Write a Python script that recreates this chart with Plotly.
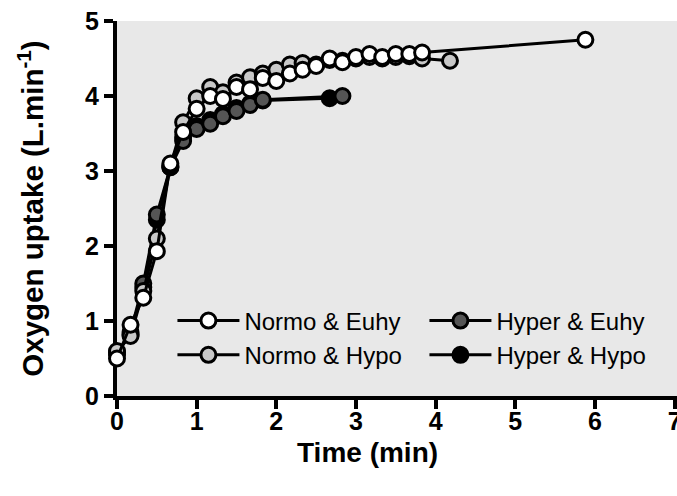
import plotly.graph_objects as go

# Oxygen uptake (L/min) over time (min) for four conditions
t_normo_euhy = [0, 0.17, 0.33, 0.5, 0.67, 0.83, 1.0, 1.17, 1.33, 1.5, 1.67, 1.83, 2.0,
                2.17, 2.33, 2.5, 2.67, 2.83, 3.0, 3.17, 3.33, 3.5, 3.67, 3.83, 5.88]
v_normo_euhy = [0.50, 0.95, 1.31, 1.93, 3.10, 3.52, 3.83, 4.00, 3.96, 4.12, 4.09, 4.24, 4.20,
                4.30, 4.35, 4.40, 4.50, 4.45, 4.52, 4.56, 4.52, 4.56, 4.56, 4.58, 4.75]

t_normo_hypo = [0, 0.17, 0.33, 0.5, 0.67, 0.83, 1.0, 1.17, 1.33, 1.5, 1.67, 1.83, 2.0,
                2.17, 2.33, 2.5, 2.67, 2.83, 3.0, 3.17, 3.33, 3.5, 3.67, 3.83, 4.18]
v_normo_hypo = [0.60, 0.80, 1.40, 2.10, 3.07, 3.65, 3.97, 4.12, 4.05, 4.18, 4.25, 4.30, 4.35,
                4.42, 4.44, 4.42, 4.48, 4.47, 4.50, 4.52, 4.50, 4.52, 4.53, 4.50, 4.47]

t_hyper_euhy = [0, 0.17, 0.33, 0.5, 0.67, 0.83, 1.0, 1.17, 1.33, 1.5, 1.67, 1.83, 2.83]
v_hyper_euhy = [0.55, 0.85, 1.50, 2.42, 3.05, 3.40, 3.56, 3.63, 3.73, 3.80, 3.88, 3.95, 4.00]

t_hyper_hypo = [0, 0.17, 0.33, 0.5, 0.67, 0.83, 1.0, 1.17, 1.33, 1.5, 1.67, 1.83, 2.67]
v_hyper_hypo = [0.58, 0.82, 1.45, 2.35, 3.05, 3.45, 3.60, 3.68, 3.76, 3.84, 3.90, 3.94, 3.97]

x_ticks = [0, 1, 2, 3, 4, 5, 6, 7]
y_ticks = [0, 1, 2, 3, 4, 5]

FONT = "Liberation Sans, Arial, sans-serif"

# back-to-front drawing order, legend order set by legendrank
series = [
    ("Hyper & Hypo", t_hyper_hypo, v_hyper_hypo, "#000000", 4),
    ("Hyper & Euhy", t_hyper_euhy, v_hyper_euhy, "#555555", 2),
    ("Normo & Hypo", t_normo_hypo, v_normo_hypo, "#c8c8c8", 3),
    ("Normo & Euhy", t_normo_euhy, v_normo_euhy, "#ffffff", 1),
]

fig = go.Figure()
for name, tx, vy, color, rank in series:
    fig.add_trace(go.Scatter(
        x=tx, y=vy, name=name, mode="lines+markers",
        line=dict(color="black", width=3),
        marker=dict(size=15, color=color, line=dict(color="black", width=3)),
        cliponaxis=False, legendrank=rank,
    ))

fig.update_layout(
    width=677, height=496,
    margin=dict(l=117, r=0, t=21, b=100, autoexpand=False),
    paper_bgcolor="white",
    plot_bgcolor="#e8e8e8",
    font=dict(family=FONT, color="black"),
    showlegend=True,
    legend=dict(
        orientation="h", x=0.099, y=0.26, xanchor="left", yanchor="top",
        bgcolor="rgba(0,0,0,0)", font=dict(size=24, family=FONT),
        entrywidth=175, itemwidth=62, traceorder="normal",
    ),
    annotations=[
        dict(text="Time (min)", xref="paper", yref="paper", x=0.4475, y=-0.151,
             xanchor="center", yanchor="middle", showarrow=False,
             font=dict(size=28, family=FONT, weight="bold")),
        dict(text="Oxygen uptake (L.min<sup>-1</sup>)", xref="paper", yref="paper",
             x=-0.155, y=0.5, xanchor="center", yanchor="middle", textangle=-90,
             showarrow=False, font=dict(size=29.5, family=FONT, weight="bold")),
    ],
)

fig.update_xaxes(
    range=[0, 7.03], tickvals=x_ticks, ticktext=[str(v) for v in x_ticks],
    showgrid=False, zeroline=False, showline=True, linecolor="black", linewidth=4,
    ticks="outside", ticklen=9, tickwidth=4, tickcolor="black",
    tickfont=dict(size=25, family=FONT, weight="bold"), layer="below traces",
    ticklabeloverflow="allow", ticklabelstandoff=-9, automargin=False,
)
fig.update_yaxes(
    range=[0, 5], tickvals=y_ticks, ticktext=[str(v) for v in y_ticks],
    showgrid=False, zeroline=False, showline=True, linecolor="black", linewidth=4,
    ticks="outside", ticklen=9, tickwidth=4, tickcolor="black",
    tickfont=dict(size=25, family=FONT, weight="bold"), layer="below traces",
    automargin=False,
)

fig.write_html("out.html")
